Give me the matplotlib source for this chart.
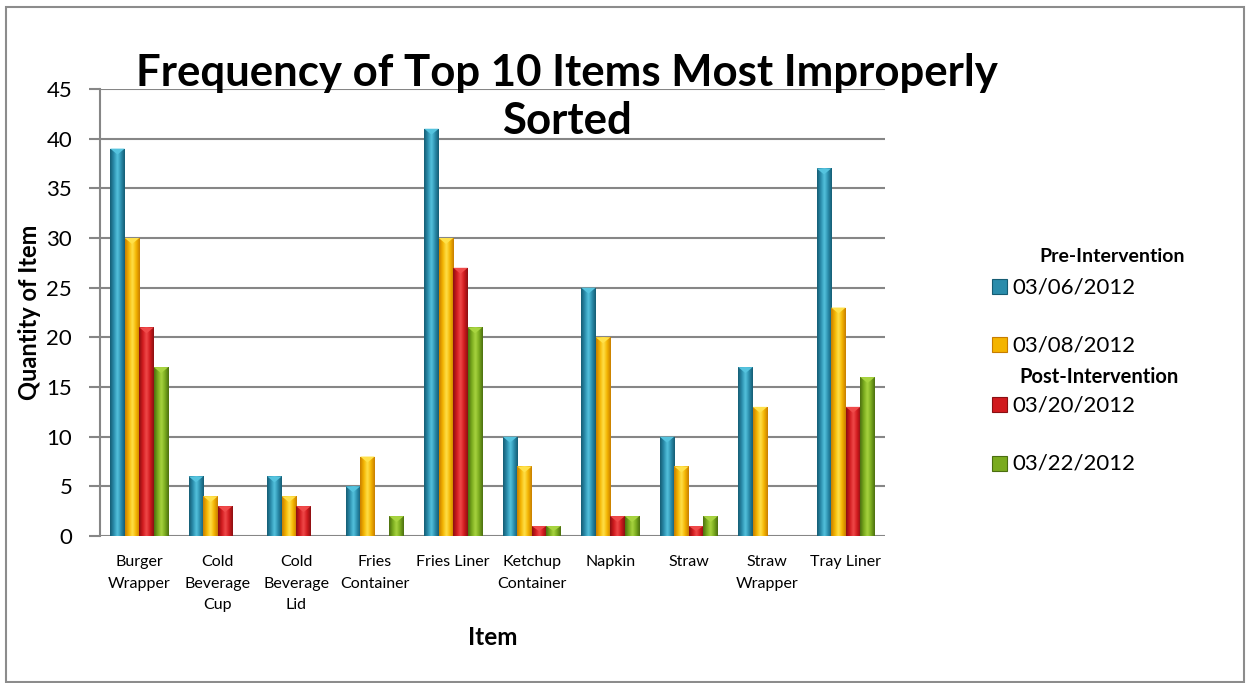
import matplotlib
matplotlib.use('Agg')
import matplotlib.pyplot as plt
import numpy as np
from matplotlib.patches import Rectangle, Polygon
from matplotlib.colors import LinearSegmentedColormap

# data
items = ['Burger\nWrapper', 'Cold\nBeverage\nCup', 'Cold\nBeverage\nLid', 'Fries\nContainer',
         'Fries Liner', 'Ketchup\nContainer', 'Napkin', 'Straw', 'Straw\nWrapper', 'Tray Liner']
d0306 = [39, 6, 6, 5, 41, 10, 25, 10, 17, 37]
d0308 = [30, 4, 4, 8, 30, 7, 20, 7, 13, 23]
d0320 = [21, 3, 3, 0, 27, 1, 2, 1, 0, 13]
d0322 = [17, 0, 0, 2, 21, 1, 2, 2, 0, 16]
series = [('03/06/2012', d0306), ('03/08/2012', d0308),
          ('03/20/2012', d0320), ('03/22/2012', d0322)]
yticks = list(range(0, 50, 5))

# base / dark / light tones per series
colors = [('#2a8cab', '#155c73', '#55c3de'),
          ('#f4b400', '#c77d00', '#ffe14a'),
          ('#d11a1e', '#8a0f12', '#f04a4a'),
          ('#7aab1e', '#4b6e10', '#a8d440')]

plt.rcParams['font.family'] = ['Lato', 'DejaVu Sans']

fig = plt.figure(figsize=(12.46, 6.83), dpi=100)
ax = fig.add_axes([100 / 1246, 1 - 536 / 683, 785 / 1246, 447 / 683])

x = np.arange(len(items))
w = 0.185
grad = np.linspace(0, 1, 64).reshape(1, -1)

for k, (lab, vals) in enumerate(series):
    base, dark, light = colors[k]
    cmap = LinearSegmentedColormap.from_list('c%d' % k,
                                             [dark, base, light, base, dark])
    offs = (k - 1.5) * w
    bars = ax.bar(x + offs, vals, width=w, color=base, zorder=3, linewidth=0)
    for b, v in zip(bars, vals):
        if v <= 0:
            continue
        x0 = b.get_x()
        im = ax.imshow(grad, extent=[x0, x0 + w, 0, v], aspect='auto',
                       cmap=cmap, zorder=3.5, interpolation='bicubic')
        im.set_clip_path(b)
        tri_h = min(0.6, v * 0.5)
        ax.add_patch(Polygon([[x0, v], [x0 + w, v], [x0 + w / 2, v - tri_h]],
                             closed=True, color=light, zorder=4, lw=0))

ax.set_xlim(-0.5, len(items) - 0.5)
ax.set_ylim(0, 45)
ax.set_yticks(yticks)
ax.set_xticks(x)
ax.set_xticklabels(items, fontsize=11.5, linespacing=1.65)
ax.tick_params(axis='y', labelsize=16, length=8, color='#868686', width=1.5, pad=12)
ax.tick_params(axis='x', length=0, pad=14)
ax.yaxis.grid(True, color='#868686', linewidth=1.5, zorder=0)
for s in ['top', 'right', 'bottom']:
    ax.spines[s].set_visible(False)
ax.spines['left'].set_color('#868686')
ax.spines['left'].set_linewidth(1.5)
ax.set_axisbelow(True)

ax.set_ylabel('Quantity of Item', fontsize=17, fontweight='bold', labelpad=4)
ax.set_xlabel('Item', fontsize=17.5, fontweight='bold', labelpad=10)

fig.text(567 / 1246, 1 - 97 / 683, 'Frequency of Top 10 Items Most Improperly\nSorted',
         ha='center', va='center', fontsize=31.5, fontweight='bold', linespacing=1.22)

# legend, laid out by hand
fig.text(1112 / 1246, 1 - 256 / 683, 'Pre-Intervention', ha='center', va='center',
         fontsize=14, fontweight='bold')
fig.text(1099 / 1246, 1 - 377 / 683, 'Post-Intervention', ha='center', va='center',
         fontsize=14.5, fontweight='bold')
ys = [287, 345, 405, 464]
for k, (lab, vals) in enumerate(series):
    yy = 1 - ys[k] / 683
    fig.patches.append(Rectangle((992 / 1246, yy - 7 / 683), 15 / 1246, 15 / 683,
                                 transform=fig.transFigure, facecolor=colors[k][0],
                                 edgecolor=colors[k][1], lw=0.8))
    fig.text(1012 / 1246, yy, lab, ha='left', va='center', fontsize=16)

# outer frame
fig.patches.append(Rectangle((6 / 1246, 1 / 683), 1238 / 1246, 675 / 683,
                             transform=fig.transFigure, fill=False,
                             edgecolor='#8c8c8c', lw=1.5))

fig.savefig('out.png', dpi=100)
